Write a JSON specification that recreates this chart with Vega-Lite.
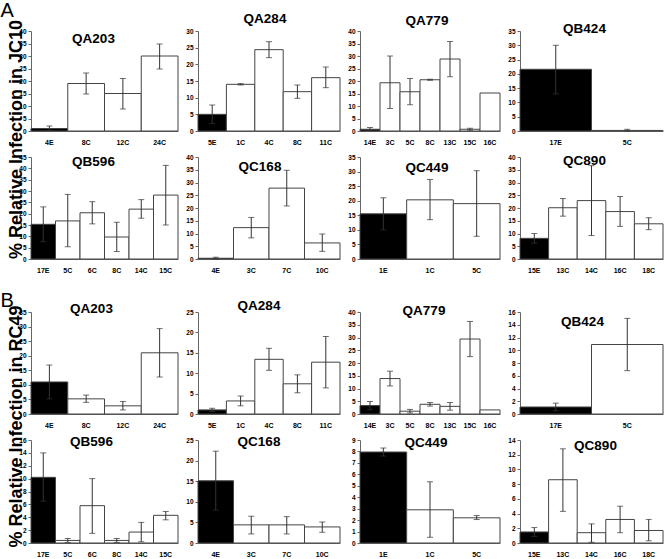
{
"$schema": "https://vega.github.io/schema/vega-lite/v6.json",
"padding": 0,
"data": {"values": [
{"p":"A1","c":"4E","v":1,"lo":0.2,"hi":2},
{"p":"A1","c":"8C","v":19,"lo":14.8,"hi":23.2},
{"p":"A1","c":"12C","v":15,"lo":8.8,"hi":21},
{"p":"A1","c":"24C","v":30,"lo":24.8,"hi":34.8},
{"p":"A2","c":"5E","v":5,"lo":2.2,"hi":7.8},
{"p":"A2","c":"1C","v":14,"lo":13.8,"hi":14.2},
{"p":"A2","c":"4C","v":24.4,"lo":22,"hi":26.8},
{"p":"A2","c":"8C","v":11.8,"lo":9.8,"hi":13.8},
{"p":"A2","c":"11C","v":16,"lo":13,"hi":19.2},
{"p":"A3","c":"14E","v":0.7,"lo":0.1,"hi":1.4},
{"p":"A3","c":"3C","v":19.3,"lo":9,"hi":30},
{"p":"A3","c":"5C","v":15.7,"lo":10.5,"hi":21},
{"p":"A3","c":"8C","v":20.5,"lo":20.3,"hi":20.7},
{"p":"A3","c":"13C","v":28.8,"lo":21.7,"hi":35.8},
{"p":"A3","c":"15C","v":0.7,"lo":0.3,"hi":1.1},
{"p":"A3","c":"16C","v":15.2,"lo":null,"hi":null},
{"p":"A4","c":"17E","v":21.6,"lo":13,"hi":30},
{"p":"A4","c":"5C","v":0.2,"lo":0,"hi":0.6},
{"p":"A5","c":"17E","v":15.3,"lo":7.6,"hi":23},
{"p":"A5","c":"5C","v":16.8,"lo":5.4,"hi":28.5},
{"p":"A5","c":"6C","v":20.4,"lo":15.5,"hi":25.3},
{"p":"A5","c":"8C","v":9.7,"lo":3.3,"hi":16.2},
{"p":"A5","c":"14C","v":22,"lo":18,"hi":26.2},
{"p":"A5","c":"15C","v":28.2,"lo":15,"hi":41.3},
{"p":"A6","c":"4E","v":0.3,"lo":0,"hi":0.7},
{"p":"A6","c":"3C","v":12.3,"lo":8.3,"hi":16.3},
{"p":"A6","c":"7C","v":27.8,"lo":20.8,"hi":34.8},
{"p":"A6","c":"10C","v":6.3,"lo":3,"hi":9.8},
{"p":"A7","c":"1E","v":15.5,"lo":10,"hi":21},
{"p":"A7","c":"1C","v":20.3,"lo":13.5,"hi":27.3},
{"p":"A7","c":"5C","v":19,"lo":7.8,"hi":30.3},
{"p":"A8","c":"15E","v":8.1,"lo":6.2,"hi":10},
{"p":"A8","c":"13C","v":20.1,"lo":16.8,"hi":23.7},
{"p":"A8","c":"14C","v":22.9,"lo":9.2,"hi":36.6},
{"p":"A8","c":"16C","v":18.6,"lo":12.8,"hi":24.5},
{"p":"A8","c":"18C","v":13.8,"lo":11.5,"hi":16.2},
{"p":"B1","c":"4E","v":11,"lo":5.2,"hi":16.8},
{"p":"B1","c":"8C","v":5.2,"lo":4,"hi":6.5},
{"p":"B1","c":"12C","v":2.8,"lo":1.4,"hi":4.3},
{"p":"B1","c":"24C","v":21,"lo":12.7,"hi":29.3},
{"p":"B2","c":"5E","v":1,"lo":0.6,"hi":1.4},
{"p":"B2","c":"1C","v":3.2,"lo":2,"hi":4.4},
{"p":"B2","c":"4C","v":13.4,"lo":10.7,"hi":16.1},
{"p":"B2","c":"8C","v":7.4,"lo":5.2,"hi":9.6},
{"p":"B2","c":"11C","v":12.7,"lo":6.4,"hi":19},
{"p":"B3","c":"14E","v":3.3,"lo":1.7,"hi":4.9},
{"p":"B3","c":"3C","v":13.9,"lo":11,"hi":16.8},
{"p":"B3","c":"5C","v":1.1,"lo":0.4,"hi":1.8},
{"p":"B3","c":"8C","v":3.8,"lo":3.1,"hi":4.5},
{"p":"B3","c":"13C","v":3,"lo":1.5,"hi":4.5},
{"p":"B3","c":"15C","v":29.4,"lo":22.5,"hi":36.3},
{"p":"B3","c":"16C","v":1.6,"lo":null,"hi":null},
{"p":"B4","c":"17E","v":1.1,"lo":0.5,"hi":1.7},
{"p":"B4","c":"5C","v":10.9,"lo":6.8,"hi":15},
{"p":"B5","c":"17E","v":10.2,"lo":6.5,"hi":14},
{"p":"B5","c":"5C","v":0.4,"lo":0.1,"hi":0.7},
{"p":"B5","c":"6C","v":5.8,"lo":1.5,"hi":10},
{"p":"B5","c":"8C","v":0.4,"lo":0.1,"hi":0.7},
{"p":"B5","c":"14C","v":1.7,"lo":0.2,"hi":3.2},
{"p":"B5","c":"15C","v":4.3,"lo":3.6,"hi":4.9},
{"p":"B6","c":"4E","v":15.1,"lo":8,"hi":22.3},
{"p":"B6","c":"3C","v":4.4,"lo":2.2,"hi":6.5},
{"p":"B6","c":"7C","v":4.4,"lo":2.2,"hi":6.4},
{"p":"B6","c":"10C","v":3.9,"lo":2.6,"hi":5.1},
{"p":"B7","c":"1E","v":7.95,"lo":7.6,"hi":8.3},
{"p":"B7","c":"1C","v":2.9,"lo":0.5,"hi":5.35},
{"p":"B7","c":"5C","v":2.2,"lo":2.05,"hi":2.4},
{"p":"B8","c":"15E","v":1.5,"lo":0.9,"hi":2.1},
{"p":"B8","c":"13C","v":8.6,"lo":4.3,"hi":12.8},
{"p":"B8","c":"14C","v":1.4,"lo":0.1,"hi":2.6},
{"p":"B8","c":"16C","v":3.2,"lo":1.4,"hi":5},
{"p":"B8","c":"18C","v":1.7,"lo":0.3,"hi":3.2}
]},
"columns": 4,
"spacing": {"row": 26, "column": 20},
"bounds": "flush",
"concat": [
{"width": 147, "height": 100, "title": {"text": "QA203", "dx": -11, "dy": 49.5},
 "transform": [{"filter": "datum.p=='A1'"}],
 "encoding": {"x": {"field": "c", "type": "nominal", "sort": null, "axis": {"title": "% Relative Infection in JC10", "titleAngle": 270, "titleAlign": "center", "titleBaseline": "middle", "titleX": -15, "titleY": 8, "titleFontSize": 18, "titleFontWeight": "bold"}}},
 "layer": [
  {"mark": "bar", "encoding": {"y": {"field": "v", "type": "quantitative", "scale": {"domain": [0, 40]}, "axis": {"values": [0,5,10,15,20,25,30,35,40], "title": "A", "titleAngle": 0, "titleAlign": "left", "titleBaseline": "alphabetic", "titleX": -31, "titleY": -15, "titleFontSize": 20, "titleFontWeight": "normal"}},
   "fill": {"condition": {"test": "indexof(datum.c,'E')>=0", "value": "#000"}, "value": "#fff"}}},
  {"mark": "rule", "encoding": {"y": {"field": "lo", "type": "quantitative", "scale": {"domain": [0, 40]}, "axis": {"values": [0,5,10,15,20,25,30,35,40], "title": "A", "titleAngle": 0, "titleAlign": "left", "titleBaseline": "alphabetic", "titleX": -31, "titleY": -15, "titleFontSize": 20, "titleFontWeight": "normal"}}, "y2": {"field": "hi"}}},
  {"mark": "tick", "encoding": {"y": {"field": "lo", "type": "quantitative", "scale": {"domain": [0, 40]}, "axis": {"values": [0,5,10,15,20,25,30,35,40], "title": "A", "titleAngle": 0, "titleAlign": "left", "titleBaseline": "alphabetic", "titleX": -31, "titleY": -15, "titleFontSize": 20, "titleFontWeight": "normal"}}}},
  {"mark": "tick", "encoding": {"y": {"field": "hi", "type": "quantitative", "scale": {"domain": [0, 40]}, "axis": {"values": [0,5,10,15,20,25,30,35,40], "title": "A", "titleAngle": 0, "titleAlign": "left", "titleBaseline": "alphabetic", "titleX": -31, "titleY": -15, "titleFontSize": 20, "titleFontWeight": "normal"}}}}
 ]},
{"width": 142, "height": 100, "title": {"text": "QA284", "dx": -4, "dy": 1.5},
 "transform": [{"filter": "datum.p=='A2'"}],
 "encoding": {"x": {"field": "c", "type": "nominal", "sort": null, "title": null}},
 "layer": [
  {"mark": "bar", "encoding": {"y": {"field": "v", "type": "quantitative", "scale": {"domain": [0, 30]}, "axis": {"values": [0,5,10,15,20,25,30], "title": null}},
   "fill": {"condition": {"test": "indexof(datum.c,'E')>=0", "value": "#000"}, "value": "#fff"}}},
  {"mark": "rule", "encoding": {"y": {"field": "lo", "type": "quantitative", "scale": {"domain": [0, 30]}, "axis": {"values": [0,5,10,15,20,25,30], "title": null}}, "y2": {"field": "hi"}}},
  {"mark": "tick", "encoding": {"y": {"field": "lo", "type": "quantitative", "scale": {"domain": [0, 30]}, "axis": {"values": [0,5,10,15,20,25,30], "title": null}}}},
  {"mark": "tick", "encoding": {"y": {"field": "hi", "type": "quantitative", "scale": {"domain": [0, 30]}, "axis": {"values": [0,5,10,15,20,25,30], "title": null}}}}
 ]},
{"width": 140, "height": 100, "title": {"text": "QA779", "dx": -3, "dy": 3.5},
 "transform": [{"filter": "datum.p=='A3'"}],
 "encoding": {"x": {"field": "c", "type": "nominal", "sort": null, "title": null}},
 "layer": [
  {"mark": "bar", "encoding": {"y": {"field": "v", "type": "quantitative", "scale": {"domain": [0, 40]}, "axis": {"values": [0,5,10,15,20,25,30,35,40], "title": null}},
   "fill": {"condition": {"test": "indexof(datum.c,'E')>=0", "value": "#000"}, "value": "#fff"}}},
  {"mark": "rule", "encoding": {"y": {"field": "lo", "type": "quantitative", "scale": {"domain": [0, 40]}, "axis": {"values": [0,5,10,15,20,25,30,35,40], "title": null}}, "y2": {"field": "hi"}}},
  {"mark": "tick", "encoding": {"y": {"field": "lo", "type": "quantitative", "scale": {"domain": [0, 40]}, "axis": {"values": [0,5,10,15,20,25,30,35,40], "title": null}}}},
  {"mark": "tick", "encoding": {"y": {"field": "hi", "type": "quantitative", "scale": {"domain": [0, 40]}, "axis": {"values": [0,5,10,15,20,25,30,35,40], "title": null}}}}
 ]},
{"width": 143, "height": 100, "title": {"text": "QB424", "dx": -7, "dy": 11.5},
 "transform": [{"filter": "datum.p=='A4'"}],
 "encoding": {"x": {"field": "c", "type": "nominal", "sort": null, "title": null}},
 "layer": [
  {"mark": "bar", "encoding": {"y": {"field": "v", "type": "quantitative", "scale": {"domain": [0, 35]}, "axis": {"values": [0,5,10,15,20,25,30,35], "title": null}},
   "fill": {"condition": {"test": "indexof(datum.c,'E')>=0", "value": "#000"}, "value": "#fff"}}},
  {"mark": "rule", "encoding": {"y": {"field": "lo", "type": "quantitative", "scale": {"domain": [0, 35]}, "axis": {"values": [0,5,10,15,20,25,30,35], "title": null}}, "y2": {"field": "hi"}}},
  {"mark": "tick", "encoding": {"y": {"field": "lo", "type": "quantitative", "scale": {"domain": [0, 35]}, "axis": {"values": [0,5,10,15,20,25,30,35], "title": null}}}},
  {"mark": "tick", "encoding": {"y": {"field": "hi", "type": "quantitative", "scale": {"domain": [0, 35]}, "axis": {"values": [0,5,10,15,20,25,30,35], "title": null}}}}
 ]},
{"width": 147, "height": 102, "title": {"text": "QB596", "dx": -11, "dy": 18.5},
 "transform": [{"filter": "datum.p=='A5'"}],
 "encoding": {"x": {"field": "c", "type": "nominal", "sort": null, "title": null}},
 "layer": [
  {"mark": "bar", "encoding": {"y": {"field": "v", "type": "quantitative", "scale": {"domain": [0, 45]}, "axis": {"values": [0,5,10,15,20,25,30,35,40,45], "title": null}},
   "fill": {"condition": {"test": "indexof(datum.c,'E')>=0", "value": "#000"}, "value": "#fff"}}},
  {"mark": "rule", "encoding": {"y": {"field": "lo", "type": "quantitative", "scale": {"domain": [0, 45]}, "axis": {"values": [0,5,10,15,20,25,30,35,40,45], "title": null}}, "y2": {"field": "hi"}}},
  {"mark": "tick", "encoding": {"y": {"field": "lo", "type": "quantitative", "scale": {"domain": [0, 45]}, "axis": {"values": [0,5,10,15,20,25,30,35,40,45], "title": null}}}},
  {"mark": "tick", "encoding": {"y": {"field": "hi", "type": "quantitative", "scale": {"domain": [0, 45]}, "axis": {"values": [0,5,10,15,20,25,30,35,40,45], "title": null}}}}
 ]},
{"width": 142, "height": 102, "title": {"text": "QC168", "dx": -9, "dy": 23.5},
 "transform": [{"filter": "datum.p=='A6'"}],
 "encoding": {"x": {"field": "c", "type": "nominal", "sort": null, "title": null}},
 "layer": [
  {"mark": "bar", "encoding": {"y": {"field": "v", "type": "quantitative", "scale": {"domain": [0, 40]}, "axis": {"values": [0,5,10,15,20,25,30,35,40], "title": null}},
   "fill": {"condition": {"test": "indexof(datum.c,'E')>=0", "value": "#000"}, "value": "#fff"}}},
  {"mark": "rule", "encoding": {"y": {"field": "lo", "type": "quantitative", "scale": {"domain": [0, 40]}, "axis": {"values": [0,5,10,15,20,25,30,35,40], "title": null}}, "y2": {"field": "hi"}}},
  {"mark": "tick", "encoding": {"y": {"field": "lo", "type": "quantitative", "scale": {"domain": [0, 40]}, "axis": {"values": [0,5,10,15,20,25,30,35,40], "title": null}}}},
  {"mark": "tick", "encoding": {"y": {"field": "hi", "type": "quantitative", "scale": {"domain": [0, 40]}, "axis": {"values": [0,5,10,15,20,25,30,35,40], "title": null}}}}
 ]},
{"width": 140, "height": 102, "title": {"text": "QC449", "dx": -3, "dy": 24.5},
 "transform": [{"filter": "datum.p=='A7'"}],
 "encoding": {"x": {"field": "c", "type": "nominal", "sort": null, "title": null}},
 "layer": [
  {"mark": "bar", "encoding": {"y": {"field": "v", "type": "quantitative", "scale": {"domain": [0, 35]}, "axis": {"values": [0,5,10,15,20,25,30,35], "title": null}},
   "fill": {"condition": {"test": "indexof(datum.c,'E')>=0", "value": "#000"}, "value": "#fff"}}},
  {"mark": "rule", "encoding": {"y": {"field": "lo", "type": "quantitative", "scale": {"domain": [0, 35]}, "axis": {"values": [0,5,10,15,20,25,30,35], "title": null}}, "y2": {"field": "hi"}}},
  {"mark": "tick", "encoding": {"y": {"field": "lo", "type": "quantitative", "scale": {"domain": [0, 35]}, "axis": {"values": [0,5,10,15,20,25,30,35], "title": null}}}},
  {"mark": "tick", "encoding": {"y": {"field": "hi", "type": "quantitative", "scale": {"domain": [0, 35]}, "axis": {"values": [0,5,10,15,20,25,30,35], "title": null}}}}
 ]},
{"width": 143, "height": 102, "title": {"text": "QC890", "dx": -7, "dy": 17.5},
 "transform": [{"filter": "datum.p=='A8'"}],
 "encoding": {"x": {"field": "c", "type": "nominal", "sort": null, "title": null}},
 "layer": [
  {"mark": "bar", "encoding": {"y": {"field": "v", "type": "quantitative", "scale": {"domain": [0, 40]}, "axis": {"values": [0,5,10,15,20,25,30,35,40], "title": null}},
   "fill": {"condition": {"test": "indexof(datum.c,'E')>=0", "value": "#000"}, "value": "#fff"}}},
  {"mark": "rule", "encoding": {"y": {"field": "lo", "type": "quantitative", "scale": {"domain": [0, 40]}, "axis": {"values": [0,5,10,15,20,25,30,35,40], "title": null}}, "y2": {"field": "hi"}}},
  {"mark": "tick", "encoding": {"y": {"field": "lo", "type": "quantitative", "scale": {"domain": [0, 40]}, "axis": {"values": [0,5,10,15,20,25,30,35,40], "title": null}}}},
  {"mark": "tick", "encoding": {"y": {"field": "hi", "type": "quantitative", "scale": {"domain": [0, 40]}, "axis": {"values": [0,5,10,15,20,25,30,35,40], "title": null}}}}
 ]},
{"width": 147, "height": 1, "data": {"values": []}, "mark": "point"},
{"width": 142, "height": 1, "data": {"values": []}, "mark": "point"},
{"width": 140, "height": 1, "data": {"values": []}, "mark": "point"},
{"width": 143, "height": 1, "data": {"values": []}, "mark": "point"},
{"width": 147, "height": 102, "title": {"text": "QA203", "dx": -13, "dy": 29.5},
 "transform": [{"filter": "datum.p=='B1'"}],
 "encoding": {"x": {"field": "c", "type": "nominal", "sort": null, "axis": {"title": "% Relative Infection in RC49", "titleAngle": 270, "titleAlign": "center", "titleBaseline": "middle", "titleX": -15, "titleY": 12, "titleFontSize": 18, "titleFontWeight": "bold"}}},
 "layer": [
  {"mark": "bar", "encoding": {"y": {"field": "v", "type": "quantitative", "scale": {"domain": [0, 35]}, "axis": {"values": [0,5,10,15,20,25,30,35], "title": "B", "titleAngle": 0, "titleAlign": "left", "titleBaseline": "alphabetic", "titleX": -31, "titleY": -6, "titleFontSize": 20, "titleFontWeight": "normal"}},
   "fill": {"condition": {"test": "indexof(datum.c,'E')>=0", "value": "#000"}, "value": "#fff"}}},
  {"mark": "rule", "encoding": {"y": {"field": "lo", "type": "quantitative", "scale": {"domain": [0, 35]}, "axis": {"values": [0,5,10,15,20,25,30,35], "title": "B", "titleAngle": 0, "titleAlign": "left", "titleBaseline": "alphabetic", "titleX": -31, "titleY": -6, "titleFontSize": 20, "titleFontWeight": "normal"}}, "y2": {"field": "hi"}}},
  {"mark": "tick", "encoding": {"y": {"field": "lo", "type": "quantitative", "scale": {"domain": [0, 35]}, "axis": {"values": [0,5,10,15,20,25,30,35], "title": "B", "titleAngle": 0, "titleAlign": "left", "titleBaseline": "alphabetic", "titleX": -31, "titleY": -6, "titleFontSize": 20, "titleFontWeight": "normal"}}}},
  {"mark": "tick", "encoding": {"y": {"field": "hi", "type": "quantitative", "scale": {"domain": [0, 35]}, "axis": {"values": [0,5,10,15,20,25,30,35], "title": "B", "titleAngle": 0, "titleAlign": "left", "titleBaseline": "alphabetic", "titleX": -31, "titleY": -6, "titleFontSize": 20, "titleFontWeight": "normal"}}}}
 ]},
{"width": 142, "height": 102, "title": {"text": "QA284", "dx": -10, "dy": 7.5},
 "transform": [{"filter": "datum.p=='B2'"}],
 "encoding": {"x": {"field": "c", "type": "nominal", "sort": null, "title": null}},
 "layer": [
  {"mark": "bar", "encoding": {"y": {"field": "v", "type": "quantitative", "scale": {"domain": [0, 25]}, "axis": {"values": [0,5,10,15,20,25], "title": null}},
   "fill": {"condition": {"test": "indexof(datum.c,'E')>=0", "value": "#000"}, "value": "#fff"}}},
  {"mark": "rule", "encoding": {"y": {"field": "lo", "type": "quantitative", "scale": {"domain": [0, 25]}, "axis": {"values": [0,5,10,15,20,25], "title": null}}, "y2": {"field": "hi"}}},
  {"mark": "tick", "encoding": {"y": {"field": "lo", "type": "quantitative", "scale": {"domain": [0, 25]}, "axis": {"values": [0,5,10,15,20,25], "title": null}}}},
  {"mark": "tick", "encoding": {"y": {"field": "hi", "type": "quantitative", "scale": {"domain": [0, 25]}, "axis": {"values": [0,5,10,15,20,25], "title": null}}}}
 ]},
{"width": 140, "height": 102, "title": {"text": "QA779", "dx": -6, "dy": 12.5},
 "transform": [{"filter": "datum.p=='B3'"}],
 "encoding": {"x": {"field": "c", "type": "nominal", "sort": null, "title": null}},
 "layer": [
  {"mark": "bar", "encoding": {"y": {"field": "v", "type": "quantitative", "scale": {"domain": [0, 40]}, "axis": {"values": [0,5,10,15,20,25,30,35,40], "title": null}},
   "fill": {"condition": {"test": "indexof(datum.c,'E')>=0", "value": "#000"}, "value": "#fff"}}},
  {"mark": "rule", "encoding": {"y": {"field": "lo", "type": "quantitative", "scale": {"domain": [0, 40]}, "axis": {"values": [0,5,10,15,20,25,30,35,40], "title": null}}, "y2": {"field": "hi"}}},
  {"mark": "tick", "encoding": {"y": {"field": "lo", "type": "quantitative", "scale": {"domain": [0, 40]}, "axis": {"values": [0,5,10,15,20,25,30,35,40], "title": null}}}},
  {"mark": "tick", "encoding": {"y": {"field": "hi", "type": "quantitative", "scale": {"domain": [0, 40]}, "axis": {"values": [0,5,10,15,20,25,30,35,40], "title": null}}}}
 ]},
{"width": 143, "height": 102, "title": {"text": "QB424", "dx": -9, "dy": 23.5},
 "transform": [{"filter": "datum.p=='B4'"}],
 "encoding": {"x": {"field": "c", "type": "nominal", "sort": null, "title": null}},
 "layer": [
  {"mark": "bar", "encoding": {"y": {"field": "v", "type": "quantitative", "scale": {"domain": [0, 16]}, "axis": {"values": [0,2,4,6,8,10,12,14,16], "title": null}},
   "fill": {"condition": {"test": "indexof(datum.c,'E')>=0", "value": "#000"}, "value": "#fff"}}},
  {"mark": "rule", "encoding": {"y": {"field": "lo", "type": "quantitative", "scale": {"domain": [0, 16]}, "axis": {"values": [0,2,4,6,8,10,12,14,16], "title": null}}, "y2": {"field": "hi"}}},
  {"mark": "tick", "encoding": {"y": {"field": "lo", "type": "quantitative", "scale": {"domain": [0, 16]}, "axis": {"values": [0,2,4,6,8,10,12,14,16], "title": null}}}},
  {"mark": "tick", "encoding": {"y": {"field": "hi", "type": "quantitative", "scale": {"domain": [0, 16]}, "axis": {"values": [0,2,4,6,8,10,12,14,16], "title": null}}}}
 ]},
{"width": 147, "height": 103, "title": {"text": "QB596", "dx": -13, "dy": 15.5},
 "transform": [{"filter": "datum.p=='B5'"}],
 "encoding": {"x": {"field": "c", "type": "nominal", "sort": null, "title": null}},
 "layer": [
  {"mark": "bar", "encoding": {"y": {"field": "v", "type": "quantitative", "scale": {"domain": [0, 16]}, "axis": {"values": [0,2,4,6,8,10,12,14,16], "title": null}},
   "fill": {"condition": {"test": "indexof(datum.c,'E')>=0", "value": "#000"}, "value": "#fff"}}},
  {"mark": "rule", "encoding": {"y": {"field": "lo", "type": "quantitative", "scale": {"domain": [0, 16]}, "axis": {"values": [0,2,4,6,8,10,12,14,16], "title": null}}, "y2": {"field": "hi"}}},
  {"mark": "tick", "encoding": {"y": {"field": "lo", "type": "quantitative", "scale": {"domain": [0, 16]}, "axis": {"values": [0,2,4,6,8,10,12,14,16], "title": null}}}},
  {"mark": "tick", "encoding": {"y": {"field": "hi", "type": "quantitative", "scale": {"domain": [0, 16]}, "axis": {"values": [0,2,4,6,8,10,12,14,16], "title": null}}}}
 ]},
{"width": 142, "height": 103, "title": {"text": "QC168", "dx": -10, "dy": 15.5},
 "transform": [{"filter": "datum.p=='B6'"}],
 "encoding": {"x": {"field": "c", "type": "nominal", "sort": null, "title": null}},
 "layer": [
  {"mark": "bar", "encoding": {"y": {"field": "v", "type": "quantitative", "scale": {"domain": [0, 25]}, "axis": {"values": [0,5,10,15,20,25], "title": null}},
   "fill": {"condition": {"test": "indexof(datum.c,'E')>=0", "value": "#000"}, "value": "#fff"}}},
  {"mark": "rule", "encoding": {"y": {"field": "lo", "type": "quantitative", "scale": {"domain": [0, 25]}, "axis": {"values": [0,5,10,15,20,25], "title": null}}, "y2": {"field": "hi"}}},
  {"mark": "tick", "encoding": {"y": {"field": "lo", "type": "quantitative", "scale": {"domain": [0, 25]}, "axis": {"values": [0,5,10,15,20,25], "title": null}}}},
  {"mark": "tick", "encoding": {"y": {"field": "hi", "type": "quantitative", "scale": {"domain": [0, 25]}, "axis": {"values": [0,5,10,15,20,25], "title": null}}}}
 ]},
{"width": 140, "height": 103, "title": {"text": "QC449", "dx": -4, "dy": 16.5},
 "transform": [{"filter": "datum.p=='B7'"}],
 "encoding": {"x": {"field": "c", "type": "nominal", "sort": null, "title": null}},
 "layer": [
  {"mark": "bar", "encoding": {"y": {"field": "v", "type": "quantitative", "scale": {"domain": [0, 9]}, "axis": {"values": [0,1,2,3,4,5,6,7,8,9], "title": null}},
   "fill": {"condition": {"test": "indexof(datum.c,'E')>=0", "value": "#000"}, "value": "#fff"}}},
  {"mark": "rule", "encoding": {"y": {"field": "lo", "type": "quantitative", "scale": {"domain": [0, 9]}, "axis": {"values": [0,1,2,3,4,5,6,7,8,9], "title": null}}, "y2": {"field": "hi"}}},
  {"mark": "tick", "encoding": {"y": {"field": "lo", "type": "quantitative", "scale": {"domain": [0, 9]}, "axis": {"values": [0,1,2,3,4,5,6,7,8,9], "title": null}}}},
  {"mark": "tick", "encoding": {"y": {"field": "hi", "type": "quantitative", "scale": {"domain": [0, 9]}, "axis": {"values": [0,1,2,3,4,5,6,7,8,9], "title": null}}}}
 ]},
{"width": 143, "height": 103, "title": {"text": "QC890", "dx": 4, "dy": 19.5},
 "transform": [{"filter": "datum.p=='B8'"}],
 "encoding": {"x": {"field": "c", "type": "nominal", "sort": null, "title": null}},
 "layer": [
  {"mark": "bar", "encoding": {"y": {"field": "v", "type": "quantitative", "scale": {"domain": [0, 14]}, "axis": {"values": [0,2,4,6,8,10,12,14], "title": null}},
   "fill": {"condition": {"test": "indexof(datum.c,'E')>=0", "value": "#000"}, "value": "#fff"}}},
  {"mark": "rule", "encoding": {"y": {"field": "lo", "type": "quantitative", "scale": {"domain": [0, 14]}, "axis": {"values": [0,2,4,6,8,10,12,14], "title": null}}, "y2": {"field": "hi"}}},
  {"mark": "tick", "encoding": {"y": {"field": "lo", "type": "quantitative", "scale": {"domain": [0, 14]}, "axis": {"values": [0,2,4,6,8,10,12,14], "title": null}}}},
  {"mark": "tick", "encoding": {"y": {"field": "hi", "type": "quantitative", "scale": {"domain": [0, 14]}, "axis": {"values": [0,2,4,6,8,10,12,14], "title": null}}}}
 ]}
],
"config": {
 "view": {"stroke": null},
 "font": "Liberation Sans",
 "title": {"fontSize": 13.5, "fontWeight": "bold", "font": "Liberation Sans", "color": "#000", "baseline": "middle", "offset": 0, "anchor": "middle", "frame": "group"},
 "axis": {"domainColor": "#666", "tickColor": "#666", "labelColor": "#000", "labelFontWeight": "bold", "labelFont": "Liberation Sans Narrow, Liberation Sans", "grid": false, "titleColor": "#000", "titleFont": "Liberation Sans", "labelOverlap": false},
 "axisX": {"ticks": false, "labelAngle": 0, "labelPadding": 7, "labelFontSize": 7},
 "axisY": {"tickSize": 3, "labelFontSize": 6.5, "labelPadding": 2},
 "scale": {"bandPaddingInner": 0, "bandPaddingOuter": 0},
 "bar": {"stroke": "#444", "strokeWidth": 1},
 "rule": {"color": "#333", "strokeWidth": 1},
 "tick": {"color": "#333", "thickness": 1, "size": 6}
}
}
